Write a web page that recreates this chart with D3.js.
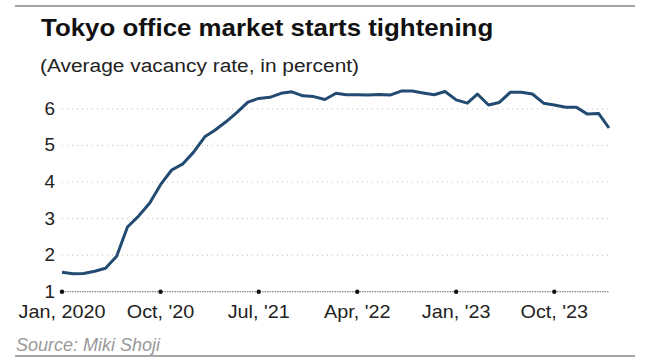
<!DOCTYPE html>
<html>
  <head>
    <script src="https://d3js.org/d3.v7.min.js"></script>
    <style>
      body { margin: 0; background: #fff; }
      text { font-family: "Liberation Sans", Arial, sans-serif; }
    </style>
  </head>
  <body>
    <svg width="650" height="362"></svg>
    <script>
      // monthly average vacancy rate, Jan 2020 .. Mar 2024
      const rate2020 = [1.53, 1.49, 1.50, 1.56, 1.64, 1.97, 2.77, 3.07, 3.43, 3.93, 4.33, 4.49];
      const rate2021 = [4.82, 5.24, 5.42, 5.65, 5.90, 6.19, 6.29, 6.32, 6.43, 6.47, 6.36, 6.34];
      const rate2022 = [6.26, 6.43, 6.39, 6.39, 6.38, 6.40, 6.38, 6.49, 6.49, 6.44, 6.39, 6.48];
      const rate2023 = [6.25, 6.16, 6.41, 6.11, 6.18, 6.46, 6.46, 6.41, 6.16, 6.11, 6.05, 6.05];
      const rate2024 = [5.86, 5.88, 5.48];

      const yTicks = [1, 2, 3, 4, 5, 6];
      const xTickDates = ["2020-01", "2020-10", "2021-07", "2022-04", "2023-01", "2023-10"];
      const xTickLabels = ["Jan, 2020", "Oct, '20", "Jul, '21", "Apr, '22", "Jan, '23", "Oct, '23"];

      const values = [].concat(rate2020, rate2021, rate2022, rate2023, rate2024);
      const parse = d3.timeParse("%Y-%m");
      const start = parse("2020-01");
      const data = values.map((v, i) => ({ date: d3.timeMonth.offset(start, i), value: v }));

      const svg = d3.select("svg");

      // top and bottom rules
      svg.append("line").attr("x1", 15).attr("x2", 635).attr("y1", 6).attr("y2", 6)
          .attr("stroke", "#888").attr("stroke-width", 1.5);
      svg.append("line").attr("x1", 15).attr("x2", 635).attr("y1", 356).attr("y2", 356)
          .attr("stroke", "#888").attr("stroke-width", 1.5);

      // heading text is a bit wider than the font, stretch it sideways
      svg.append("text")
          .attr("transform", "translate(41, 36) scale(1.125, 1)")
          .style("font-size", "23px").style("font-weight", "bold").attr("fill", "#111")
          .text("Tokyo office market starts tightening");

      svg.append("text")
          .attr("transform", "translate(40, 72) scale(1.1, 1)")
          .style("font-size", "19px").attr("fill", "#222")
          .text("(Average vacancy rate, in percent)");

      const x = d3.scaleTime()
          .domain([start, data[data.length - 1].date])
          .range([62, 609]);

      const y = d3.scaleLinear()
          .domain([1, 6])
          .range([291.7, 109]);

      // gridlines
      svg.append("g")
        .selectAll("line")
        .data(yTicks.filter(d => d > 1))
        .join("line")
          .attr("x1", 62).attr("x2", 609)
          .attr("y1", d => y(d)).attr("y2", d => y(d))
          .attr("stroke", "#bbb").attr("stroke-width", 1)
          .attr("stroke-dasharray", "1,4");

      // y labels
      svg.append("g")
        .selectAll("text")
        .data(yTicks)
        .join("text")
          .attr("transform", d => `translate(55, ${y(d)}) scale(1.05, 1)`)
          .attr("dy", "0.33em")
          .attr("text-anchor", "end")
          .style("font-size", "18px").attr("fill", "#222")
          .text(d => d);

      // baseline axis
      const xAxis = svg.append("g").attr("transform", `translate(0, ${y(1)})`);
      xAxis.append("line")
          .attr("x1", 62).attr("x2", 609)
          .attr("stroke", "#888").attr("stroke-width", 1.2)
          .attr("stroke-dasharray", "1.5,1");

      const tickDates = xTickDates.map(parse);
      xAxis.selectAll("circle")
        .data(tickDates)
        .join("circle")
          .attr("cx", d => x(d)).attr("r", 2.2)
          .attr("fill", "#111");

      xAxis.selectAll("text")
        .data(tickDates)
        .join("text")
          .attr("transform", d => `translate(${x(d)}, 26) scale(1.1, 1)`)
          .attr("text-anchor", "middle")
          .style("font-size", "18px").attr("fill", "#222")
          .text((d, i) => xTickLabels[i]);

      const line = d3.line()
          .x(d => x(d.date))
          .y(d => y(d.value));

      svg.append("path")
          .datum(data)
          .attr("d", line)
          .attr("fill", "none")
          .attr("stroke", "#234b72")
          .attr("stroke-width", 3)
          .attr("stroke-linejoin", "round");

      svg.append("text")
          .attr("x", 16).attr("y", 351)
          .style("font-size", "18px").style("font-style", "italic").attr("fill", "#999")
          .text("Source: Miki Shoji");
    </script>
  </body>
</html>
